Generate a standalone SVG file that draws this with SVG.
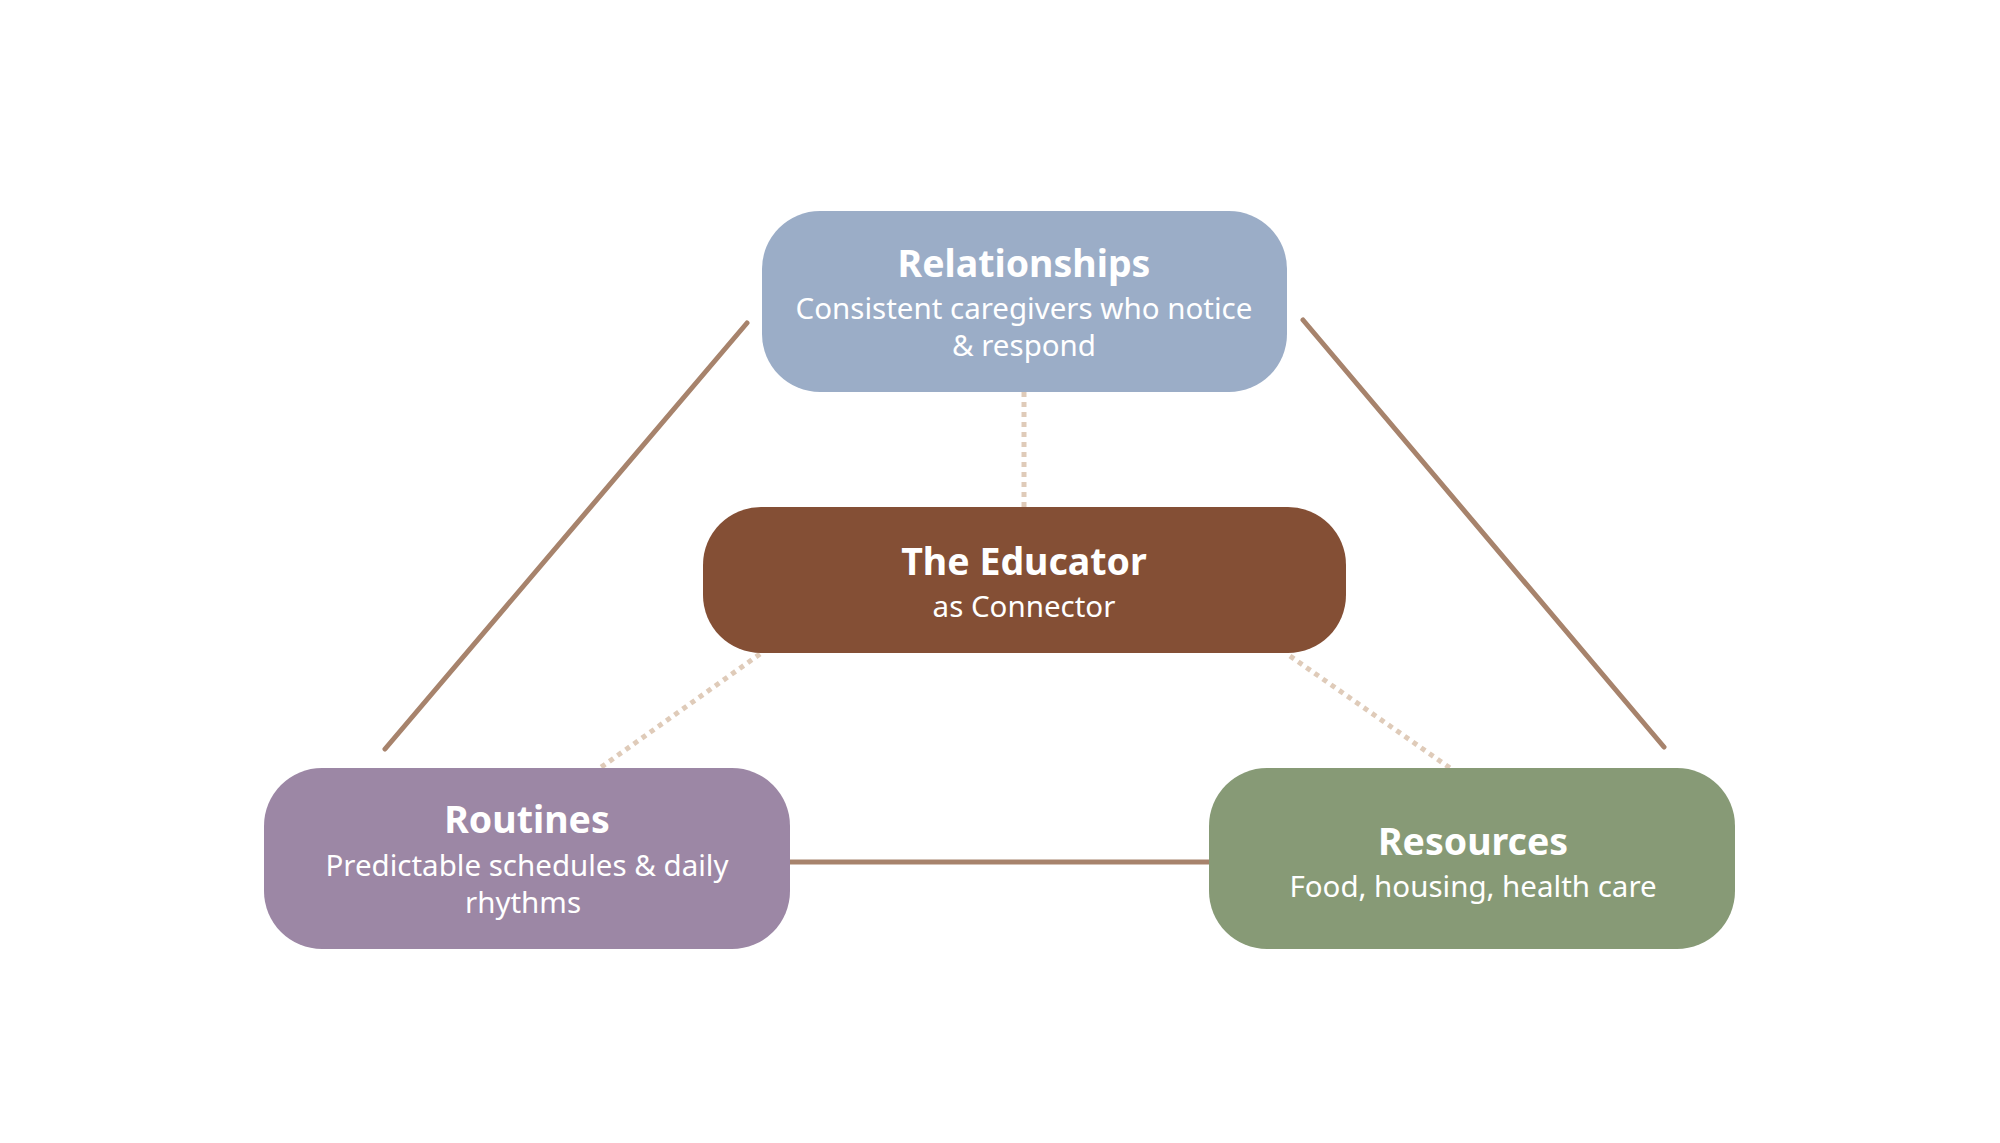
<svg xmlns="http://www.w3.org/2000/svg" width="2000" height="1143" viewBox="0 0 2000 1143">
<style>
.title{font-family:"Noto Sans","Liberation Sans",sans-serif;font-weight:700;font-size:37.5px;fill:#ffffff;text-anchor:middle}
.sub{font-family:"Noto Sans","Liberation Sans",sans-serif;font-weight:400;font-size:29.5px;fill:#ffffff;text-anchor:middle}
.solid{stroke:#a7836c;stroke-width:5;stroke-linecap:round;fill:none}
.dot{stroke:#dfcbb9;stroke-width:5;stroke-dasharray:5 5;fill:none}
</style>
<rect width="2000" height="1143" fill="#ffffff"/>
<g id="connectors">
<line class="solid" x1="747" y1="323" x2="385" y2="749"/>
<line class="solid" x1="1303" y1="320" x2="1664" y2="747"/>
<line class="solid" x1="790" y1="862" x2="1209" y2="862"/>
<line class="dot" x1="1024" y1="392" x2="1024" y2="507"/>
<line class="dot" x1="760" y1="654" x2="600" y2="768"/>
<line class="dot" x1="1290" y1="656" x2="1450" y2="768"/>
</g>
<g id="relationships">
<rect x="762" y="211" width="525" height="181" rx="58" fill="#9badc7"/>
<text class="title" x="1024" y="277">Relationships</text>
<text class="sub" x="1024" y="319">Consistent caregivers who notice</text>
<text class="sub" x="1024" y="356">&amp; respond</text>
</g>
<g id="educator">
<rect x="703" y="507" width="643" height="146" rx="58" fill="#844f35"/>
<text class="title" x="1024" y="575">The Educator</text>
<text class="sub" x="1024" y="617">as Connector</text>
</g>
<g id="routines">
<rect x="264" y="768" width="526" height="181" rx="58" fill="#9c87a5"/>
<text class="title" x="527" y="833">Routines</text>
<text class="sub" x="527" y="876">Predictable schedules &amp; daily</text>
<text class="sub" x="523" y="913">rhythms</text>
</g>
<g id="resources">
<rect x="1209" y="768" width="526" height="181" rx="58" fill="#879a76"/>
<text class="title" x="1473" y="855">Resources</text>
<text class="sub" x="1473" y="897">Food, housing, health care</text>
</g>
</svg>
